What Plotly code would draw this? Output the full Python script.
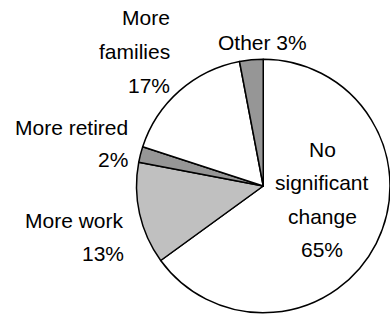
import plotly.graph_objects as go

# Data
categories = ["No significant change", "More work", "More retired", "More families", "Other"]
display_lines = [["No", "significant", "change"], ["More work"], ["More retired"], ["More", "families"], ["Other"]]
values = [65, 13, 2, 17, 3]
colors = ["#FFFFFF", "#C0C0C0", "#969696", "#FFFFFF", "#969696"]

W, H = 390, 317
cx, cy, r = 263.5, 186, 127

fig = go.Figure(go.Pie(
    labels=categories, values=values, sort=False, direction="clockwise", rotation=0,
    marker=dict(colors=colors, line=dict(color="black", width=1.5)),
    textinfo="none", hoverinfo="label+percent", showlegend=False,
    domain=dict(x=[(cx - r) / W, min(1, (cx + r) / W)], y=[1 - (cy + r) / H, 1 - (cy - r) / H]),
))

# label layout: (anchor x px, xanchor, first line center y px, line spacing px, same_line_pct)
label_pos = [
    (322, "center", 149.5, 33.3, False),
    (126, "right", 220, 33.5, False),
    (130, "right", 127.5, 32, False),
    (172, "right", 17, 34, False),
    (262, "center", 42.5, 34, True),
]

annotations = []
for lines, v, (x, xa, y0, dy, same) in zip(display_lines, values, label_pos):
    if same:
        rows = [lines[0] + f" {v}%"]
    else:
        rows = lines + [f"{v}%"]
    for i, t in enumerate(rows):
        annotations.append(dict(
            text=t, x=x / W, y=1 - (y0 + i * dy) / H, xref="paper", yref="paper",
            xanchor=xa, yanchor="middle", showarrow=False,
            font=dict(family="Liberation Sans, Arial", size=21, color="black"),
        ))

fig.update_layout(
    width=W, height=H, margin=dict(l=0, r=0, t=0, b=0),
    paper_bgcolor="white", plot_bgcolor="white", annotations=annotations,
)
fig.write_html(
    "out.html",
    config={"displayModeBar": False},
    post_script="document.body.style.margin='0';document.body.style.overflow='hidden';",
)
